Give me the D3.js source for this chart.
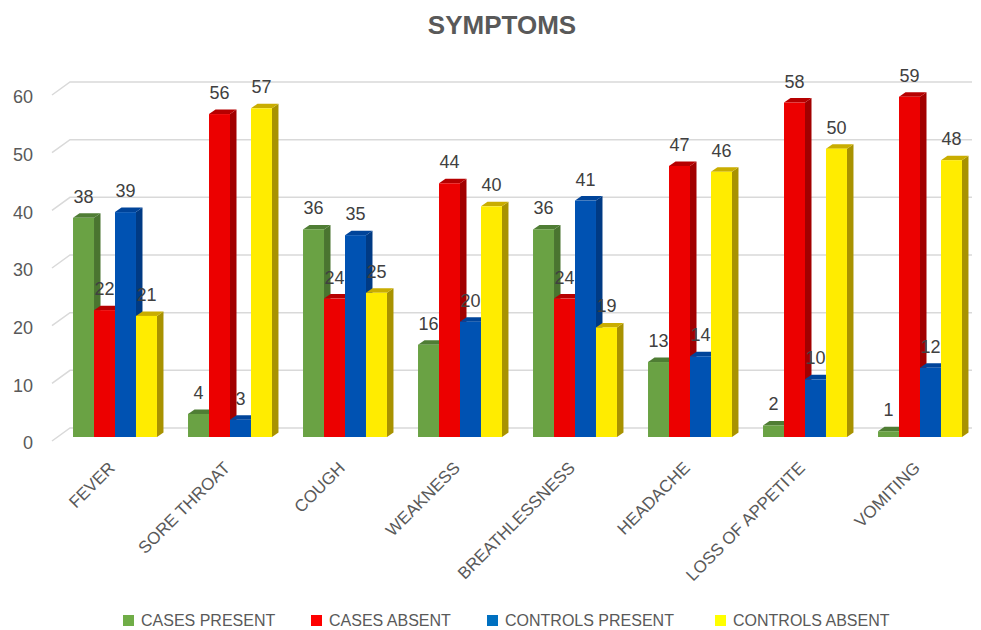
<!DOCTYPE html>
<html>
<head>
<meta charset="utf-8">
<script src="https://cdn.jsdelivr.net/npm/d3@7"></script>
<style>
  body { margin: 0; background: #fff; }
  svg { font-family: "Liberation Sans", Arial, sans-serif; }
</style>
</head>
<body>
<svg></svg>
<script>
// chart size
var width = 981;
var height = 630;

// data
var categories = ["FEVER", "SORE THROAT", "COUGH", "WEAKNESS", "BREATHLESSNESS", "HEADACHE", "LOSS OF APPETITE", "VOMITING"];
var seriesNames = ["CASES PRESENT", "CASES ABSENT", "CONTROLS PRESENT", "CONTROLS ABSENT"];
var casesPresent    = [38, 4, 36, 16, 36, 13, 2, 1];
var casesAbsent     = [22, 56, 24, 44, 24, 47, 58, 59];
var controlsPresent = [39, 3, 35, 20, 41, 14, 10, 12];
var controlsAbsent  = [21, 57, 25, 40, 19, 46, 50, 48];
var yTicks = [0, 10, 20, 30, 40, 50, 60];

var seriesValues = [casesPresent, casesAbsent, controlsPresent, controlsAbsent];

// colours: front / side / top faces, and legend swatch
var colors = [
  {front: "#6aa244", side: "#4a7530", top: "#4f7d34", key: "#70ad47"},
  {front: "#ec0000", side: "#a20000", top: "#b60000", key: "#ff0000"},
  {front: "#0052b2", side: "#003a84", top: "#00449a", key: "#0070c0"},
  {front: "#ffec00", side: "#a89200", top: "#c9ad00", key: "#ffff00"}
];

// 3d depth of bars and of the back wall
var depthX = 6.5, depthY = -4.5;
var wallX = 18, wallY = -13;

var svg = d3.select("svg")
    .attr("width", width)
    .attr("height", height);

var x0 = d3.scaleBand()
    .domain(categories)
    .range([57.5, 977.5])
    .paddingInner(0.27)
    .paddingOuter(0.135);

var x1 = d3.scaleBand()
    .domain(seriesNames)
    .range([0, x0.bandwidth()]);

var y = d3.scaleLinear()
    .domain([0, 60])
    .range([437, 91]);

// title
svg.append("text")
    .attr("x", 502)
    .attr("y", 34)
    .attr("text-anchor", "middle")
    .attr("font-weight", "bold")
    .style("font-size", "26px")
    .style("fill", "#595959")
    .text("SYMPTOMS");

// gridlines on the back wall plus the slanted side wall bit
var grid = svg.append("g").attr("class", "grid");
yTicks.forEach(function(t) {
    var yb = y(t) - 9;   // back wall level
    grid.append("path")
        .attr("d", "M" + (70 - wallX) + "," + (yb - wallY) + "L70," + yb + "L972," + yb)
        .style("fill", "none")
        .style("stroke", "#d9d9d9")
        .style("stroke-width", 1.5);
});

// y axis labels
var yAxis = svg.append("g")
    .attr("transform", "translate(33,6)")
    .call(d3.axisLeft(y).tickValues(yTicks).tickSize(0).tickPadding(0));
yAxis.select(".domain").remove();
yAxis.selectAll("text")
    .style("font-size", "18px")
    .style("font-family", "Liberation Sans, Arial, sans-serif")
    .style("fill", "#595959");

// bars
var bars = [];
categories.forEach(function(c, i) {
    seriesNames.forEach(function(s, j) {
        bars.push({cat: c, series: s, j: j, value: seriesValues[j][i]});
    });
});

var barG = svg.append("g").attr("class", "bars");

var bar = barG.selectAll("g.bar")
    .data(bars)
    .enter().append("g")
    .attr("class", "bar")
    .attr("transform", function(d) { return "translate(" + (x0(d.cat) + x1(d.series)) + ",0)"; });

var bw = x1.bandwidth();

// side face
bar.append("path")
    .attr("d", function(d) {
        var t = y(d.value), b = y(0);
        return "M" + bw + "," + b + "L" + (bw + depthX) + "," + (b + depthY) +
            "L" + (bw + depthX) + "," + (t + depthY) + "L" + bw + "," + t + "Z";
    })
    .style("fill", function(d) { return colors[d.j].side; });

// top face
bar.append("path")
    .attr("d", function(d) {
        var t = y(d.value);
        return "M0," + t + "L" + depthX + "," + (t + depthY) +
            "L" + (bw + depthX) + "," + (t + depthY) + "L" + bw + "," + t + "Z";
    })
    .style("fill", function(d) { return colors[d.j].top; });

// front face
bar.append("rect")
    .attr("x", 0)
    .attr("y", function(d) { return y(d.value); })
    .attr("width", bw)
    .attr("height", function(d) { return y(0) - y(d.value); })
    .style("fill", function(d) { return colors[d.j].front; });

// value labels
barG.selectAll("text.value")
    .data(bars)
    .enter().append("text")
    .attr("class", "value")
    .attr("x", function(d) { return x0(d.cat) + x1(d.series) + bw / 2; })
    .attr("y", function(d) { return y(d.value) - 15; })
    .attr("text-anchor", "middle")
    .style("font-size", "18px")
    .style("fill", "#404040")
    .text(function(d) { return d.value; });

// category labels, rotated
svg.append("g").selectAll("text")
    .data(categories)
    .enter().append("text")
    .attr("transform", function(d) {
        return "translate(" + (x0(d) + x0.bandwidth() / 2 + 1) + ",469) rotate(-45)";
    })
    .attr("text-anchor", "end")
    .style("font-size", "17px")
    .style("fill", "#595959")
    .text(function(d) { return d; });

// legend
var legendX = [123, 311, 487, 715];
var legend = svg.append("g").selectAll("g")
    .data(seriesNames)
    .enter().append("g")
    .attr("transform", function(d, i) { return "translate(" + legendX[i] + ",615)"; });

legend.append("rect")
    .attr("width", 11)
    .attr("height", 11)
    .style("fill", function(d, i) { return colors[i].key; });

legend.append("text")
    .attr("x", 18)
    .attr("y", 11)
    .style("font-size", "16px")
    .style("fill", "#595959")
    .text(function(d) { return d; });
</script>
</body>
</html>
